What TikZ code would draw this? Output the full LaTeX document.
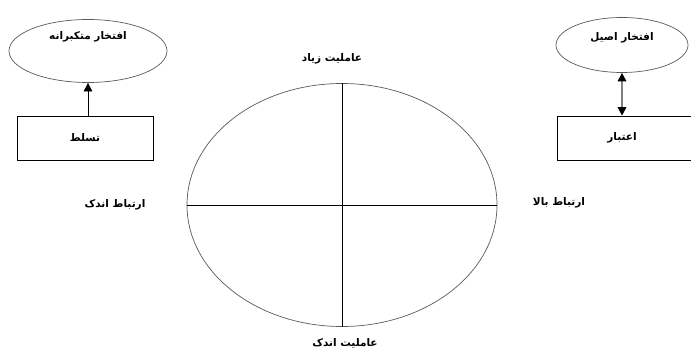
\documentclass[tikz,border=0pt]{standalone}
\usepackage{fontspec}
\newfontfamily\arabicfont[Script=Arabic]{DejaVu Sans}
\TeXXeTstate=1
\usetikzlibrary{arrows.meta, positioning, shapes.geometric}

\begin{document}
\begin{tikzpicture}[
    x=1pt, y=-1pt,
    font=\arabicfont\bfseries\fontsize{10.5}{12}\selectfont,
    oval/.style={draw=black!65, line width=0.7pt, ellipse, inner sep=0pt},
    box/.style={draw, line width=0.7pt, rectangle, inner sep=0pt},
    lbl/.style={inner sep=1pt},
    arr/.style={-{Triangle[length=3mm, width=3mm]}, line width=0.7pt},
    darr/.style={{Triangle[length=3mm, width=3mm, color=black]}-{Triangle[length=3mm, width=3mm, color=black]},
                 draw=black!50, line width=1.8pt},
]
\useasboundingbox (0,0) rectangle (691,350);

% left side
\node[oval, minimum width=158pt, minimum height=63pt,
      label={[yshift=14pt]center:\beginR افتخار متکبرانه\endR}] (arrog) at (88,51) {};
\node[box, minimum width=136pt, minimum height=44pt] (dom) at (85,138) {\beginR تسلط\endR};

% right side
\node[oval, minimum width=132pt, minimum height=55pt,
      label={[yshift=7pt]center:\beginR افتخار اصیل\endR}] (auth) at (622,45) {};
\node[box, minimum width=136pt, minimum height=44pt, anchor=west] (cred) at (557,138) {};
\node at (622,138) {\beginR اعتبار\endR};

\draw[arr] (dom.north -| arrog.south) -- (arrog.south);
\draw[darr] (auth.south) -- (auth.south |- cred.north);

% quadrants
\node[oval, minimum width=310pt, minimum height=243pt] (quad) at (342,205) {};
\draw[line width=0.7pt] (quad.north) -- (quad.south);
\draw[line width=0.7pt] (quad.west) -- (quad.east);

\node[lbl] (hiag) at (332,59) {\beginR عاملیت زیاد\endR};
\node[lbl] (loag) at (345,343) {\beginR عاملیت اندک\endR};
\node[lbl] (locon) at (115,205) {\beginR ارتباط اندک\endR};
\node[lbl] (hicon) at (559,203) {\beginR ارتباط بالا\endR};

\end{tikzpicture}
\end{document}
